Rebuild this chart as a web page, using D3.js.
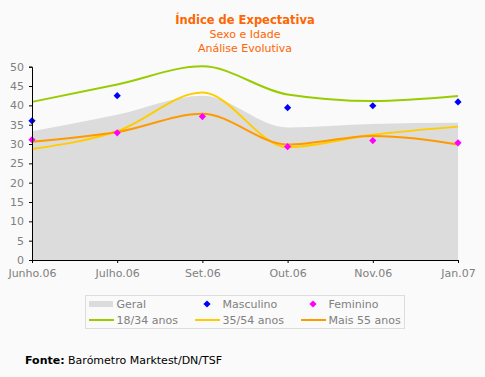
<!DOCTYPE html>
<html>
<head>
<meta charset="utf-8">
<script src="https://cdn.jsdelivr.net/npm/d3@7"></script>
<style>
  body { margin: 0; background: #fafafa; }
  svg { display: block; font-family: "DejaVu Sans", Verdana, sans-serif; }
  .tick text { fill: #808080; font-size: 11px; font-family: "DejaVu Sans", Verdana, sans-serif; }
</style>
</head>
<body>
<svg id="chart" width="485" height="377"></svg>
<script>
const months = ['Junho.06', 'Julho.06', 'Set.06', 'Out.06', 'Nov.06', 'Jan.07'];
const geral = [33.3, 37.6, 42.5, 34.3, 35.2, 35.5];
const masculino = [36.0, 42.5, null, 39.4, 39.9, 40.9];
const feminino = [31.1, 32.9, 37.1, 29.3, 30.9, 30.3];
const age18_34 = [40.9, 45.4, 50.1, 42.8, 41.1, 42.4];
const age35_54 = [28.7, 33.3, 43.3, 29.2, 32.4, 34.5];
const age55 = [30.6, 33.1, 37.8, 29.9, 32.1, 29.9];
const yTicks = [0, 5, 10, 15, 20, 25, 30, 35, 40, 45, 50];

const svg = d3.select('#chart');
const plot_left = 32, plot_right = 458, plot_top = 66.7, plot_bottom = 260;

const x = d3.scalePoint().domain(months).range([plot_left, plot_right]);
const y = d3.scaleLinear().domain([0, 50]).range([plot_bottom, plot_top]);

// titles
const titles = svg.append('g').attr('fill', '#ff6600').attr('text-anchor', 'middle');
titles.append('text').attr('x', 245).attr('y', 24).attr('font-size', 11.5).attr('font-weight', 'bold').text('Índice de Expectativa');
titles.append('text').attr('x', 245).attr('y', 38).attr('font-size', 11).text('Sexo e Idade');
titles.append('text').attr('x', 245).attr('y', 52).attr('font-size', 11).text('Análise Evolutiva');

// geral area
const area = d3.area()
  .x((d, i) => x(months[i]))
  .y0(y(0))
  .y1(d => y(d))
  .curve(d3.curveMonotoneX);
svg.append('path').attr('d', area(geral)).attr('fill', '#dcdcdc');

// lines
const line = d3.line()
  .x((d, i) => x(months[i]))
  .y(d => y(d))
  .curve(d3.curveMonotoneX);

const lineSeries = [
  {name: '18/34 anos', values: age18_34, color: '#99cc00'},
  {name: '35/54 anos', values: age35_54, color: '#ffcc00'},
  {name: 'Mais 55 anos', values: age55, color: '#ff9900'}
];
lineSeries.forEach(function(s) {
  svg.append('path').attr('d', line(s.values))
    .attr('fill', 'none').attr('stroke', s.color).attr('stroke-width', 2);
});

// markers (square turned 45 degrees)
const diamond = d3.symbol().type(d3.symbolSquare).size(26);
const drawPoints = function(values, color) {
  values.forEach(function(v, i) {
    if (v === null) return;
    svg.append('path').attr('d', diamond())
      .attr('transform', 'translate(' + x(months[i]) + ',' + y(v) + ') rotate(45)')
      .attr('fill', color);
  });
};
drawPoints(masculino, '#0000ff');
drawPoints(feminino, '#ff00ff');

// axes
const yAxis = d3.axisLeft(y).tickValues(yTicks).tickSize(3).tickPadding(5);
svg.append('g').attr('transform', 'translate(' + plot_left + ',0)').call(yAxis)
  .call(g => g.selectAll('line, .domain').attr('stroke', '#000'));
const xAxis = d3.axisBottom(x).tickSize(3).tickPadding(6);
svg.append('g').attr('transform', 'translate(0,' + plot_bottom + ')').call(xAxis)
  .call(g => g.selectAll('line, .domain').attr('stroke', '#000'));

// legend
const lg = svg.append('g').attr('font-size', 11).attr('fill', '#808080');
lg.append('rect').attr('x', 85.5).attr('y', 295.5).attr('width', 319).attr('height', 33)
  .attr('fill', '#fafafa').attr('stroke', '#dddddd');
const cols = [89, 195, 301];
const row1 = 304, row2 = 320;
lg.append('rect').attr('x', cols[0]).attr('y', row1 - 3).attr('width', 24).attr('height', 6).attr('fill', '#dcdcdc');
lg.append('path').attr('d', diamond()).attr('transform', 'translate(' + (cols[1] + 12) + ',' + row1 + ') rotate(45)').attr('fill', '#0000ff');
lg.append('path').attr('d', diamond()).attr('transform', 'translate(' + (cols[2] + 12) + ',' + row1 + ') rotate(45)').attr('fill', '#ff00ff');
const row1Names = ['Geral', 'Masculino', 'Feminino'];
row1Names.forEach(function(n, i) {
  lg.append('text').attr('x', cols[i] + 27.5).attr('y', row1 + 4).text(n);
});
lineSeries.forEach(function(s, i) {
  lg.append('line').attr('x1', cols[i]).attr('x2', cols[i] + 25).attr('y1', row2).attr('y2', row2)
    .attr('stroke', s.color).attr('stroke-width', 2);
  lg.append('text').attr('x', cols[i] + 27.5).attr('y', row2 + 4).text(s.name);
});

// source
const src = svg.append('text').attr('x', 25).attr('y', 364).attr('font-size', 11).attr('fill', '#000');
src.append('tspan').attr('font-weight', 'bold').text('Fonte:');
src.append('tspan').text(' Barómetro Marktest/DN/TSF');
</script>
</body>
</html>
